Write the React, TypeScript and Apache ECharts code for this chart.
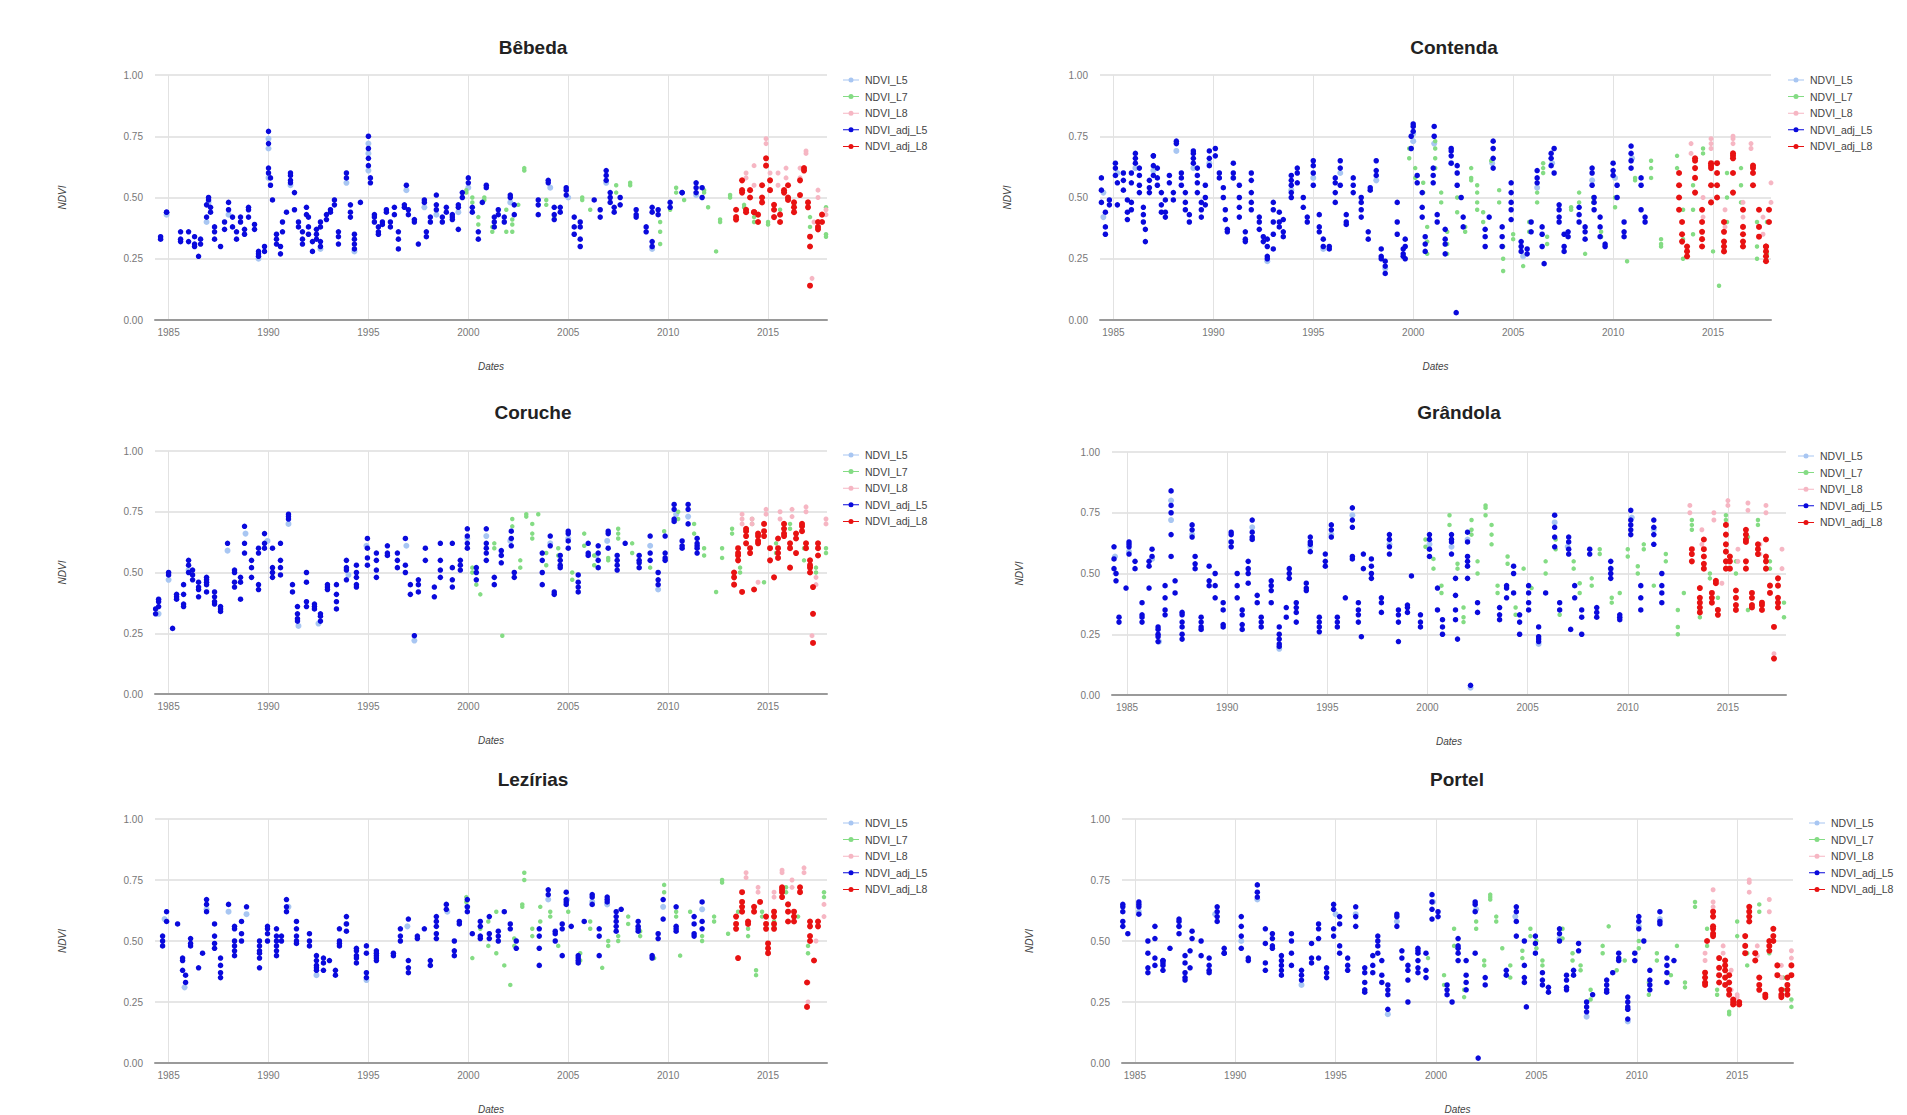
import { useEffect, useRef } from "react";
import * as echarts from "echarts";

// Each row: [decimal year, value, value, ...] — several observations on about the same date
type Group = number[][];

const YEAR_TICKS = [1985, 1990, 1995, 2000, 2005, 2010, 2015];
const SERIES_NAMES = ["NDVI_L5", "NDVI_L7", "NDVI_L8", "NDVI_adj_L5", "NDVI_adj_L8"];

// ---------------- Bêbeda ----------------
const bebedaL5: Group = [[1984.9,0.43],[1986.9,0.40],[1987.0,0.48],[1988.0,0.43],[1989.5,0.25],[1990.0,0.58,0.70,0.74],[1991.1,0.55],[1992.6,0.29],[1993.9,0.56],[1994.3,0.28],[1995.0,0.61,0.68,0.72],[1996.9,0.53],[1997.8,0.46],[1998.4,0.43],[1999.5,0.44],[2000.0,0.54],[2002.1,0.48],[2004.1,0.54],[2005.0,0.50],[2006.9,0.56],[2009.2,0.29],[2011.4,0.51]];
const bebedaL7: Group = [[1999.9,0.52,0.53],[2000.2,0.48,0.50],[2000.5,0.42,0.39],[2000.8,0.50,0.49],[2001.2,0.38,0.36],[2001.9,0.45,0.36],[2002.2,0.36,0.39,0.41],[2002.5,0.47],[2002.8,0.62,0.61],[2003.9,0.47,0.49],[2004.3,0.46,0.42],[2005.7,0.49,0.50],[2006.1,0.45],[2007.4,0.55,0.52],[2008.1,0.55,0.56],[2009.6,0.40,0.36,0.31],[2010.1,0.45,0.46],[2010.4,0.52,0.54],[2010.8,0.49],[2011.8,0.53,0.52],[2012.0,0.46],[2012.4,0.28],[2012.6,0.40,0.41],[2013.1,0.50,0.51],[2013.8,0.47,0.46],[2014.3,0.42,0.40],[2015.0,0.40,0.39],[2015.6,0.40,0.45],[2016.3,0.47,0.44],[2017.1,0.38,0.42],[2017.9,0.35,0.34,0.46]];
const bebedaL8: Group = [[2013.9,0.58,0.60],[2014.3,0.63,0.55],[2014.9,0.72,0.74],[2015.1,0.60,0.57],[2015.5,0.55,0.60],[2015.9,0.62,0.58],[2016.6,0.62,0.58],[2016.9,0.69,0.68],[2017.2,0.17],[2017.3,0.40],[2017.5,0.53,0.50],[2017.9,0.45,0.43]];
const bebedaAdjL5: Group = [[1984.3,0.38,0.36],[1984.6,0.34,0.33],[1984.9,0.44,0.44],[1985.6,0.36,0.33,0.32],[1986.0,0.36,0.32],[1986.3,0.34,0.31,0.30],[1986.5,0.26],[1986.6,0.33,0.31],[1986.9,0.42,0.47],[1987.0,0.49,0.50],[1987.1,0.46,0.44],[1987.3,0.38,0.36,0.33],[1987.6,0.30],[1987.8,0.40,0.37],[1988.0,0.48,0.45],[1988.2,0.42,0.38],[1988.4,0.36,0.33],[1988.6,0.42,0.40],[1988.8,0.37,0.35],[1989.0,0.46,0.45,0.42],[1989.3,0.39,0.37],[1989.5,0.28,0.27,0.26],[1989.8,0.28,0.30],[1990.0,0.60,0.62,0.72,0.77],[1990.1,0.58,0.55],[1990.2,0.49],[1990.4,0.35,0.33,0.31],[1990.6,0.27,0.30],[1990.7,0.36,0.40],[1990.9,0.44],[1991.1,0.59,0.60,0.57,0.56],[1991.3,0.52,0.45],[1991.5,0.40,0.38],[1991.7,0.36,0.33,0.31],[1991.9,0.46,0.43],[1992.0,0.42,0.38,0.35],[1992.2,0.28,0.32],[1992.4,0.37,0.35,0.33],[1992.6,0.40,0.38,0.32,0.30],[1992.9,0.43,0.41],[1993.1,0.45,0.44],[1993.3,0.49,0.47],[1993.5,0.36,0.34,0.31],[1993.9,0.58,0.60],[1994.1,0.42,0.44,0.47],[1994.3,0.35,0.33,0.29,0.31],[1994.6,0.48],[1995.0,0.63,0.66,0.70,0.75],[1995.1,0.58,0.56],[1995.3,0.43,0.42,0.40],[1995.5,0.38,0.36,0.35],[1995.7,0.40,0.39],[1995.9,0.45,0.44],[1996.1,0.40,0.38],[1996.3,0.46,0.43],[1996.5,0.36,0.33,0.29],[1996.8,0.46,0.47],[1996.9,0.55],[1997.0,0.43,0.45],[1997.3,0.41,0.40],[1997.5,0.31],[1997.8,0.48,0.49],[1997.9,0.36,0.34],[1998.1,0.42,0.40],[1998.4,0.51,0.47,0.45],[1998.7,0.42,0.40],[1998.9,0.46,0.44],[1999.2,0.41,0.42,0.43],[1999.5,0.37,0.46,0.47],[1999.7,0.50,0.52],[2000.0,0.56,0.58],[2000.2,0.46,0.44],[2000.5,0.36,0.33],[2000.7,0.48],[2000.9,0.55,0.54],[2001.3,0.42,0.40,0.38],[2001.5,0.45,0.43],[2001.8,0.42,0.40],[2002.1,0.51,0.50],[2002.3,0.47,0.43],[2003.5,0.49,0.47,0.43],[2004.0,0.56,0.57],[2004.3,0.46,0.43,0.41],[2004.6,0.46,0.44],[2004.9,0.53,0.54,0.51],[2005.3,0.42,0.38,0.35],[2005.6,0.40,0.38,0.33,0.30],[2006.3,0.49],[2006.6,0.45,0.42],[2006.9,0.59,0.61,0.57],[2007.1,0.52,0.50,0.48],[2007.3,0.46,0.44],[2007.6,0.50,0.47],[2008.4,0.45,0.43,0.42],[2008.9,0.38,0.36],[2009.2,0.46,0.44,0.32,0.30],[2009.5,0.43,0.45],[2010.1,0.48,0.46],[2010.7,0.52,0.52],[2011.4,0.56,0.54,0.52],[2011.7,0.54,0.50]];
const bebedaAdjL8: Group = [[2013.4,0.45,0.42,0.41],[2013.7,0.57,0.52,0.53],[2013.9,0.45,0.44],[2014.1,0.50,0.53],[2014.3,0.44,0.44],[2014.5,0.40,0.43],[2014.7,0.48,0.50,0.55],[2014.9,0.66,0.63],[2015.1,0.57,0.53],[2015.3,0.47,0.45,0.42],[2015.6,0.40,0.43],[2015.8,0.52,0.53],[2016.0,0.55,0.50,0.49],[2016.3,0.48,0.46,0.44],[2016.6,0.51,0.57],[2016.8,0.62,0.61],[2017.0,0.46,0.48],[2017.1,0.34,0.30,0.14],[2017.5,0.40,0.38,0.37],[2017.7,0.43,0.40]];

// ---------------- Contenda ----------------
const contendaL5: Group = [[1984.5,0.52,0.42],[1985.2,0.60],[1986.1,0.62],[1987.0,0.61],[1988.15,0.69],[1989.0,0.62],[1989.8,0.64],[1991.0,0.58],[1992.7,0.24],[1993.9,0.53],[1995.0,0.58],[1995.5,0.29],[1996.35,0.60],[1998.15,0.57],[1998.6,0.21],[2000.0,0.73,0.76],[2001.05,0.72],[2001.9,0.64],[2003.95,0.64],[2005.5,0.26],[2006.2,0.54],[2006.95,0.64],[2008.95,0.57],[2010.1,0.58],[2010.95,0.66]];
const contendaL7: Group = [[1999.8,0.70,0.66],[2000.1,0.62,0.58],[2000.5,0.52,0.56],[2000.7,0.38,0.32,0.27],[2001.1,0.73,0.70,0.66,0.62],[2001.4,0.48,0.52],[2001.7,0.36,0.31,0.27],[2002.2,0.60,0.55,0.50,0.44],[2002.6,0.38,0.36],[2002.9,0.57,0.62,0.58],[2003.2,0.55,0.52,0.48,0.45],[2003.5,0.40,0.44],[2003.9,0.65],[2004.3,0.53,0.48],[2004.5,0.30,0.25,0.20],[2005.0,0.35,0.33],[2005.5,0.22],[2005.8,0.40,0.36],[2006.2,0.48,0.52],[2006.5,0.62,0.60,0.64],[2006.7,0.31,0.34],[2007.9,0.45,0.46],[2008.3,0.48,0.52],[2008.6,0.27],[2009.0,0.50,0.48],[2009.4,0.36,0.34],[2010.1,0.50,0.46],[2010.7,0.24],[2011.1,0.58,0.57],[2011.9,0.65,0.62,0.58],[2012.4,0.33,0.31,0.30],[2013.2,0.67,0.62],[2013.5,0.45,0.33,0.25],[2014.0,0.55,0.45,0.35],[2014.5,0.70,0.68],[2015.0,0.28],[2015.3,0.14],[2015.7,0.60,0.50,0.40],[2016.4,0.62,0.55,0.48],[2017.2,0.40,0.30,0.25],[2017.7,0.40,0.27]];
const contendaL8: Group = [[2013.9,0.68,0.72],[2014.5,0.50,0.42],[2014.9,0.72,0.70,0.74],[2015.6,0.45,0.38],[2016.0,0.74,0.75,0.72],[2016.5,0.42,0.48],[2016.9,0.70,0.72],[2017.5,0.35,0.42],[2017.9,0.56,0.48]];
const contendaAdjL5: Group = [[1984.4,0.58,0.53,0.48],[1984.6,0.44,0.38,0.35],[1984.8,0.49,0.47],[1985.1,0.64,0.62,0.59],[1985.2,0.56,0.47],[1985.5,0.60,0.57,0.53],[1985.7,0.49,0.44,0.41],[1985.9,0.60,0.56,0.48,0.45],[1986.1,0.66,0.68,0.64],[1986.3,0.62,0.59,0.55,0.52],[1986.5,0.46,0.43,0.40],[1986.6,0.37,0.32],[1986.8,0.57,0.54,0.52],[1987.0,0.67,0.67,0.63,0.59],[1987.2,0.62,0.58,0.55],[1987.4,0.52,0.47,0.44],[1987.6,0.42,0.44,0.49],[1987.8,0.59,0.56],[1988.0,0.52,0.49],[1988.15,0.73,0.72],[1988.4,0.60,0.58,0.55],[1988.6,0.52,0.48,0.45],[1988.8,0.43,0.40],[1989.0,0.69,0.68,0.66,0.64],[1989.2,0.62,0.59,0.56,0.52],[1989.4,0.48,0.45,0.42],[1989.6,0.55,0.50,0.47],[1989.8,0.63,0.66,0.69],[1990.1,0.70,0.67],[1990.3,0.60,0.58],[1990.5,0.54,0.50],[1990.6,0.45,0.41],[1990.7,0.37,0.36],[1991.0,0.64,0.60,0.58],[1991.3,0.55,0.50,0.46,0.42],[1991.6,0.36,0.32,0.33],[1991.9,0.60,0.57,0.52,0.48,0.45],[1992.3,0.42,0.40,0.37],[1992.5,0.34,0.32],[1992.7,0.33,0.30,0.26,0.25],[1993.0,0.48,0.45,0.40,0.35,0.29],[1993.3,0.44,0.40,0.38],[1993.5,0.36,0.34,0.41],[1993.9,0.55,0.57,0.59,0.52,0.50],[1994.2,0.60,0.62,0.56],[1994.5,0.50,0.46],[1994.7,0.42,0.40],[1995.0,0.65,0.63,0.60,0.55],[1995.3,0.43,0.38,0.36],[1995.5,0.33,0.30],[1995.8,0.30,0.29],[1996.1,0.58,0.56,0.52,0.48],[1996.35,0.65,0.62,0.55],[1996.65,0.43,0.40,0.39],[1997.0,0.58,0.55,0.52],[1997.4,0.50,0.48,0.45,0.42],[1997.75,0.36,0.33],[1997.85,0.53,0.54],[1998.15,0.65,0.61,0.59],[1998.4,0.29,0.26,0.25],[1998.6,0.24,0.22,0.19],[1999.2,0.40,0.35,0.48],[1999.5,0.29,0.27,0.26],[1999.6,0.25,0.30,0.33],[1999.9,0.70,0.75],[2000.0,0.80,0.79,0.77],[2000.2,0.59,0.56],[2000.45,0.52,0.46,0.42],[2000.6,0.34,0.31,0.28],[2001.0,0.59,0.62,0.56],[2001.05,0.79,0.75],[2001.2,0.43,0.40],[2001.6,0.37,0.33,0.31,0.27],[2001.9,0.69,0.70,0.67,0.64],[2002.2,0.63,0.60,0.55],[2002.15,0.03],[2002.4,0.50],[2002.5,0.42,0.38],[2003.6,0.37,0.34,0.30],[2003.8,0.42],[2004.0,0.73,0.70,0.66,0.62],[2004.45,0.38,0.34,0.30],[2004.9,0.56,0.52,0.48,0.45,0.41],[2005.4,0.32,0.30,0.28],[2005.7,0.29,0.27],[2005.9,0.40,0.36],[2006.2,0.58,0.61,0.56],[2006.45,0.38,0.35,0.30],[2006.55,0.23],[2006.9,0.63,0.66,0.68],[2007.05,0.70,0.60],[2007.3,0.47,0.45,0.42,0.40],[2007.55,0.35,0.30,0.28],[2007.75,0.34,0.36],[2008.3,0.46,0.43,0.40],[2008.6,0.38,0.36,0.33],[2008.95,0.60,0.62,0.55],[2009.05,0.50,0.48,0.45],[2009.35,0.42,0.38,0.34],[2009.6,0.31,0.30],[2010.0,0.61,0.64,0.59],[2010.2,0.55,0.50],[2010.55,0.40,0.36,0.34],[2010.9,0.62,0.68,0.71,0.65],[2011.4,0.58,0.55,0.45],[2011.6,0.42,0.40]];
const contendaAdjL8: Group = [[2013.3,0.60,0.55,0.50,0.45],[2013.45,0.40,0.35,0.32],[2013.7,0.28,0.26,0.30],[2014.1,0.65,0.66,0.62,0.58,0.52],[2014.45,0.45,0.40,0.36,0.33,0.30],[2014.9,0.48,0.55,0.62,0.63,0.64],[2015.2,0.64,0.60,0.55,0.50],[2015.55,0.40,0.36,0.32,0.30,0.28],[2016.0,0.68,0.67,0.66,0.60,0.52],[2016.5,0.45,0.38,0.35,0.32,0.30],[2017.0,0.62,0.63,0.60,0.55],[2017.3,0.45,0.38,0.34],[2017.65,0.30,0.28,0.26,0.30,0.24],[2017.8,0.40,0.45]];

// ---------------- Coruche ----------------
const corucheL5: Group = [[1984.5,0.33],[1985.0,0.47],[1986.0,0.51],[1987.95,0.59],[1988.85,0.66],[1989.95,0.63],[1991.0,0.70],[1991.5,0.28],[1992.5,0.29],[1994.0,0.49],[1994.9,0.61],[1996.9,0.61],[1997.3,0.22],[1999.95,0.64],[2000.9,0.65],[2002.1,0.63],[2004.1,0.62],[2005.0,0.64],[2006.4,0.57],[2006.95,0.63],[2009.1,0.61],[2009.5,0.43],[2010.4,0.74],[2011.0,0.73]];
const corucheL7: Group = [[2000.2,0.50,0.52],[2000.4,0.45],[2000.6,0.41],[2001.3,0.60,0.62],[2001.7,0.24],[2002.2,0.69,0.72],[2002.6,0.55,0.52],[2002.9,0.74,0.73],[2003.2,0.66,0.70,0.64],[2003.5,0.74],[2003.9,0.58,0.53],[2004.5,0.60,0.57],[2005.2,0.50,0.47],[2005.8,0.61,0.66],[2006.3,0.57,0.53],[2007.0,0.56,0.55],[2007.5,0.66,0.64,0.68],[2008.2,0.62,0.58],[2009.1,0.52],[2009.8,0.67],[2010.5,0.75,0.72],[2011.3,0.70,0.66],[2011.8,0.60,0.57],[2012.4,0.42],[2012.7,0.56,0.60],[2013.2,0.66,0.68],[2013.6,0.52,0.50],[2014.2,0.70,0.72],[2014.8,0.46],[2015.4,0.62,0.58],[2016.1,0.68,0.70],[2016.8,0.55,0.60],[2017.4,0.50,0.52],[2017.9,0.58,0.60]];
const corucheL8: Group = [[2013.7,0.72,0.74,0.70],[2014.2,0.70,0.72],[2014.5,0.46],[2014.9,0.76,0.74],[2015.6,0.72,0.75],[2016.2,0.73,0.76],[2016.9,0.77,0.75],[2017.2,0.24],[2017.4,0.48,0.45],[2017.9,0.70,0.72]];
const corucheAdjL5: Group = [[1984.35,0.35,0.33],[1984.5,0.36,0.38,0.39],[1985.0,0.49,0.50],[1985.2,0.27],[1985.4,0.40,0.41,0.39],[1985.75,0.45,0.41,0.37,0.36],[1986.0,0.55,0.53,0.50],[1986.2,0.51,0.49,0.47],[1986.5,0.46,0.44,0.43,0.40],[1986.9,0.46,0.45,0.42,0.48,0.47],[1987.3,0.40,0.38,0.37,0.42],[1987.6,0.35,0.34,0.36],[1987.95,0.62],[1988.3,0.51,0.50,0.46,0.44],[1988.6,0.48,0.46,0.39],[1988.8,0.58,0.62,0.69],[1989.15,0.55,0.52,0.48],[1989.5,0.60,0.58,0.45,0.43],[1989.8,0.62,0.66,0.60],[1990.2,0.50,0.48,0.60,0.52],[1990.6,0.55,0.52,0.49,0.62],[1991.0,0.72,0.74,0.73],[1991.2,0.45,0.42],[1991.45,0.36,0.33,0.31,0.30],[1991.9,0.38,0.36,0.50,0.46],[1992.3,0.37,0.36,0.35],[1992.6,0.33,0.32,0.30],[1992.95,0.44,0.43,0.45],[1993.4,0.45,0.41,0.38,0.35],[1993.9,0.51,0.55,0.52,0.47],[1994.4,0.53,0.50,0.48,0.45,0.44],[1994.95,0.60,0.64,0.56,0.53],[1995.4,0.58,0.55,0.51,0.48],[1995.95,0.61,0.58,0.57],[1996.45,0.55,0.52,0.58],[1996.85,0.64,0.53,0.50],[1997.1,0.41,0.45],[1997.3,0.24],[1997.5,0.47,0.45,0.42],[1997.85,0.55,0.60],[1998.3,0.40,0.44],[1998.6,0.62,0.55,0.51,0.48],[1999.2,0.62,0.52,0.47,0.44],[1999.6,0.55,0.53,0.51],[1999.95,0.62,0.65,0.68,0.60],[2000.4,0.52,0.50,0.47],[2000.9,0.58,0.62,0.68,0.60,0.55],[2001.3,0.48,0.45],[2001.65,0.59,0.57,0.54],[2002.15,0.64,0.67,0.61],[2002.3,0.50,0.48],[2003.7,0.58,0.55,0.50,0.45],[2004.1,0.65,0.61],[2004.3,0.42,0.41],[2004.6,0.57,0.55,0.53,0.52],[2005.0,0.66,0.67,0.63,0.60],[2005.5,0.42,0.44,0.46,0.49],[2006.0,0.58,0.62,0.57],[2006.5,0.61,0.58,0.55,0.52],[2007.0,0.67,0.66,0.60],[2007.45,0.57,0.55,0.53,0.51],[2007.85,0.62],[2008.55,0.57,0.55,0.54,0.52],[2009.1,0.65,0.58,0.55],[2009.5,0.50,0.47,0.45],[2009.85,0.56,0.55,0.58,0.65],[2010.3,0.72,0.71,0.76,0.78],[2010.7,0.60,0.63,0.61],[2011.0,0.78,0.76,0.70],[2011.45,0.64,0.61,0.58,0.62,0.60]];
const corucheAdjL8: Group = [[2013.3,0.50,0.48,0.45],[2013.5,0.57,0.58,0.60,0.55],[2013.7,0.42],[2013.9,0.68,0.67,0.65,0.62],[2014.1,0.58,0.60],[2014.3,0.43],[2014.5,0.62,0.63,0.65,0.66],[2014.8,0.70,0.67,0.65],[2015.1,0.60,0.55],[2015.3,0.48],[2015.5,0.58,0.64,0.60,0.56],[2015.8,0.66,0.68,0.70,0.65],[2016.1,0.52,0.60,0.62],[2016.4,0.66,0.64,0.58],[2016.7,0.69,0.70,0.67],[2016.9,0.62,0.60],[2017.1,0.55,0.52,0.50,0.53],[2017.25,0.44,0.33,0.21],[2017.5,0.57,0.60,0.62]];

// ---------------- Grândola ----------------
const grandolaL5: Group = [[1984.4,0.57],[1985.1,0.59],[1986.25,0.56],[1986.6,0.22],[1987.2,0.80,0.72],[1988.25,0.66],[1990.2,0.63],[1991.25,0.69],[1992.6,0.19],[1994.15,0.61],[1995.2,0.66],[1996.25,0.74],[1998.1,0.62],[2000.1,0.62],[2001.2,0.61],[2002.0,0.64],[2002.15,0.03],[2005.55,0.21],[2006.35,0.71],[2007.0,0.61],[2009.15,0.52],[2010.2,0.73],[2011.3,0.68]];
const grandolaL7: Group = [[1999.9,0.64,0.61],[2000.3,0.56,0.52],[2000.7,0.45,0.42],[2001.1,0.70,0.74],[2001.5,0.54,0.52],[2001.8,0.36,0.32,0.30],[2002.2,0.68,0.72,0.66],[2002.5,0.55,0.50],[2002.9,0.77,0.78,0.74],[2003.2,0.70,0.66,0.62],[2003.5,0.45,0.42],[2004.0,0.57,0.54],[2004.4,0.36,0.33],[2004.8,0.52],[2005.2,0.44],[2005.9,0.55,0.50],[2006.4,0.60,0.64],[2006.6,0.33],[2007.3,0.55,0.52],[2007.6,0.46,0.42],[2008.2,0.48,0.45],[2008.6,0.58,0.60],[2009.2,0.40,0.38],[2009.6,0.42],[2010.0,0.57,0.60],[2010.5,0.53,0.50],[2010.8,0.60,0.62],[2011.3,0.45],[2011.9,0.55,0.58],[2012.5,0.35,0.28,0.25],[2012.8,0.42],[2013.2,0.70,0.72,0.68],[2013.6,0.32,0.35],[2014.1,0.50,0.48],[2014.5,0.35,0.40],[2014.9,0.74,0.72,0.70],[2015.4,0.55,0.50],[2016.0,0.65,0.35],[2016.5,0.72,0.70],[2017.1,0.52,0.55],[2017.8,0.32,0.38]];
const grandolaL8: Group = [[2013.1,0.78,0.75],[2013.7,0.62,0.68],[2014.3,0.72,0.75],[2014.7,0.46],[2015.0,0.80,0.78],[2015.5,0.60,0.55],[2016.0,0.76,0.79],[2016.6,0.62,0.58],[2016.9,0.78,0.75],[2017.3,0.17],[2017.7,0.60,0.52]];
const grandolaAdjL5: Group = [[1984.35,0.61,0.56,0.52],[1984.45,0.50,0.47],[1984.6,0.32,0.30],[1984.95,0.44],[1985.1,0.61,0.63,0.62,0.58],[1985.4,0.55,0.52],[1985.75,0.38,0.33,0.32,0.30],[1986.1,0.44,0.53,0.55],[1986.25,0.60,0.57],[1986.55,0.28,0.27,0.25,0.24,0.22],[1986.9,0.33,0.35,0.40,0.45],[1987.2,0.66,0.75,0.78,0.84,0.57],[1987.4,0.47,0.42],[1987.75,0.34,0.28,0.25,0.23,0.30,0.33],[1988.25,0.70,0.68,0.65],[1988.4,0.57,0.54,0.52],[1988.7,0.32,0.30,0.28,0.27],[1989.1,0.53,0.47,0.45],[1989.4,0.50,0.45,0.40],[1989.8,0.29,0.28,0.35,0.38],[1990.2,0.67,0.66,0.63,0.61],[1990.5,0.50,0.45,0.40],[1990.75,0.35,0.33,0.29,0.27],[1991.05,0.55,0.52,0.50,0.46],[1991.25,0.65,0.67,0.64,0.72],[1991.5,0.41,0.38],[1991.7,0.32,0.30,0.28],[1992.2,0.38,0.45,0.47,0.43],[1992.6,0.28,0.25,0.23,0.21,0.20],[1992.95,0.32,0.36],[1993.1,0.48,0.50,0.52],[1993.45,0.38,0.36,0.34,0.30],[1993.95,0.43,0.46,0.44],[1994.15,0.65,0.63,0.62,0.59],[1994.6,0.32,0.30,0.28,0.26],[1994.9,0.53,0.55,0.58],[1995.2,0.70,0.68,0.65],[1995.5,0.32,0.30,0.28],[1995.9,0.40],[1996.25,0.56,0.57,0.69,0.72,0.77],[1996.55,0.38,0.35,0.33,0.30],[1996.7,0.24],[1996.8,0.58,0.52],[1997.2,0.56,0.53,0.50,0.48],[1997.7,0.40,0.38,0.34],[1998.1,0.66,0.64,0.61,0.58],[1998.55,0.35,0.33,0.30,0.22],[1999.0,0.36,0.34,0.37],[1999.2,0.49],[1999.65,0.33,0.30,0.28],[2000.1,0.57,0.64,0.66,0.60],[2000.5,0.44,0.35],[2000.75,0.25,0.28,0.31],[2001.2,0.64,0.66,0.63,0.58],[2001.4,0.48,0.41,0.35,0.31],[2001.5,0.23],[2002.0,0.53,0.57,0.63,0.67,0.55,0.48],[2002.15,0.04],[2002.5,0.38,0.34],[2003.6,0.36,0.33,0.31],[2003.95,0.40,0.45,0.44],[2004.3,0.53,0.50,0.42],[2004.6,0.33,0.30,0.25],[2005.05,0.45,0.42,0.38,0.35],[2005.55,0.28,0.24,0.22,0.23],[2005.9,0.42],[2006.35,0.61,0.65,0.69,0.74],[2006.6,0.38,0.35],[2007.05,0.63,0.65,0.60,0.58],[2007.15,0.27],[2007.35,0.45,0.40],[2007.7,0.35,0.32,0.25],[2008.1,0.60,0.58],[2008.45,0.36,0.34,0.32],[2009.15,0.50,0.52,0.55,0.48],[2009.6,0.32,0.31,0.33],[2010.15,0.66,0.68,0.72,0.76,0.70],[2010.65,0.45,0.40,0.35],[2011.3,0.72,0.69,0.66,0.62],[2011.7,0.50,0.45,0.42,0.38]];
const grandolaAdjL8: Group = [[2013.2,0.60,0.58,0.55],[2013.6,0.44,0.40,0.38,0.36,0.34],[2013.8,0.64,0.60,0.57,0.54,0.52],[2014.2,0.42,0.40,0.38],[2014.4,0.47,0.46],[2014.5,0.35,0.33],[2014.9,0.52,0.55,0.59,0.62,0.66,0.70],[2015.1,0.57,0.55,0.52],[2015.4,0.43,0.40,0.37,0.35],[2015.9,0.63,0.66,0.68,0.64,0.55,0.52],[2016.2,0.42,0.40,0.37,0.36],[2016.5,0.58,0.60,0.62],[2016.7,0.37,0.35,0.38],[2016.9,0.55,0.52,0.64,0.57],[2017.1,0.45,0.42],[2017.3,0.28,0.15],[2017.5,0.38,0.36,0.40,0.45,0.48]];

// ---------------- Lezírias ----------------
const leziriasL5: Group = [[1984.8,0.59],[1985.8,0.31],[1986.9,0.63],[1988.0,0.62],[1988.9,0.61],[1991.0,0.64],[1992.4,0.36],[1993.9,0.57],[1994.9,0.34],[1996.95,0.56],[1998.95,0.62],[1999.95,0.64],[2004.0,0.67],[2004.95,0.67],[2006.2,0.66],[2006.95,0.65],[2009.75,0.64],[2011.7,0.63]];
const leziriasL7: Group = [[1999.9,0.66,0.68],[2000.2,0.43],[2000.6,0.55,0.52],[2001.0,0.58,0.48],[2001.4,0.62,0.45],[2001.8,0.40],[2002.1,0.32],[2002.3,0.48,0.51],[2002.7,0.65,0.64],[2002.8,0.75,0.78],[2003.2,0.55,0.52],[2003.6,0.64,0.58],[2004.1,0.62,0.60],[2004.5,0.48],[2005.0,0.62],[2005.6,0.42,0.45],[2006.1,0.58,0.55],[2006.7,0.39],[2007.0,0.48,0.50],[2007.5,0.52,0.50],[2008.0,0.60,0.57],[2008.6,0.54,0.52],[2009.3,0.43],[2009.8,0.70,0.73],[2010.4,0.62,0.60],[2010.6,0.44],[2011.1,0.62],[2011.7,0.52,0.50],[2012.3,0.60,0.58],[2012.7,0.74,0.75],[2013.0,0.53],[2013.5,0.62],[2014.0,0.55,0.52],[2014.4,0.36,0.38],[2014.7,0.60,0.62],[2015.3,0.58,0.56],[2015.9,0.70,0.72],[2016.5,0.60],[2017.0,0.45,0.48],[2017.8,0.68,0.70]];
const leziriasL8: Group = [[2013.9,0.76,0.78],[2014.5,0.70,0.72],[2015.3,0.68,0.70],[2015.7,0.78,0.79],[2016.2,0.72,0.75],[2016.8,0.80,0.78],[2017.0,0.25,0.33],[2017.4,0.50],[2017.8,0.60,0.65]];
const leziriasAdjL5: Group = [[1984.3,0.49,0.45],[1984.7,0.52,0.50,0.48],[1984.9,0.58,0.62],[1985.45,0.57],[1985.7,0.43,0.42,0.38],[1985.85,0.36,0.33],[1986.1,0.48,0.49,0.51],[1986.5,0.39],[1986.7,0.45],[1986.9,0.62,0.65,0.67],[1987.3,0.57,0.52,0.49,0.47],[1987.6,0.43,0.40,0.37,0.35],[1988.0,0.65],[1988.3,0.56,0.55,0.50,0.48,0.46,0.44],[1988.65,0.58,0.53,0.50],[1988.9,0.64],[1989.55,0.50,0.48,0.46,0.43,0.39,0.45],[1989.95,0.56,0.55,0.53,0.50],[1990.4,0.48,0.46,0.44,0.50,0.52,0.55],[1990.65,0.52,0.50],[1990.9,0.62,0.64,0.67],[1991.4,0.58,0.55,0.52,0.50,0.49],[1992.05,0.50,0.48,0.53],[1992.4,0.44,0.42,0.40,0.38,0.39],[1992.75,0.43,0.41,0.38],[1993.05,0.42],[1993.35,0.38,0.36],[1993.55,0.55,0.50,0.49,0.48],[1993.9,0.57,0.60,0.54],[1994.4,0.47,0.46,0.44,0.43,0.41],[1994.9,0.37,0.35,0.45,0.48],[1995.4,0.46,0.43,0.42,0.44,0.45],[1996.25,0.44,0.45],[1996.6,0.50,0.52,0.55],[1997.0,0.59,0.42,0.39,0.37],[1997.45,0.52,0.51],[1997.8,0.55],[1998.1,0.42,0.40],[1998.4,0.60,0.58,0.56,0.53,0.51],[1998.9,0.63,0.65],[1999.3,0.44,0.50,0.46],[1999.55,0.58,0.57],[1999.95,0.67,0.64,0.62],[2000.2,0.53],[2000.6,0.51,0.56,0.58,0.52],[2001.05,0.60,0.53,0.51],[2001.5,0.54,0.52,0.50],[2001.8,0.62],[2002.1,0.57,0.55],[2002.4,0.47,0.50],[2003.55,0.55,0.52,0.47,0.40],[2004.0,0.69,0.71],[2004.35,0.54,0.53,0.50],[2004.7,0.57,0.55,0.44],[2004.9,0.66,0.65,0.67,0.70],[2005.15,0.56],[2005.5,0.43,0.42,0.44,0.41],[2005.8,0.58],[2006.2,0.69,0.68,0.65],[2006.55,0.55,0.52,0.44],[2006.95,0.67,0.68,0.66],[2007.4,0.62,0.60,0.58,0.56,0.54],[2007.65,0.63],[2008.5,0.58,0.56,0.54,0.55],[2009.2,0.43,0.44],[2009.5,0.53,0.51],[2009.75,0.59,0.67],[2010.4,0.64,0.56,0.54,0.55],[2011.3,0.60,0.57,0.53,0.52],[2011.7,0.55,0.58,0.66]];
const leziriasAdjL8: Group = [[2013.4,0.55,0.57,0.60],[2013.5,0.43],[2013.7,0.64,0.62,0.66,0.70],[2014.0,0.58,0.57],[2014.3,0.62,0.64],[2014.6,0.66],[2014.9,0.57,0.55,0.60],[2015.0,0.49,0.47,0.45],[2015.3,0.55,0.57,0.60,0.62],[2015.7,0.70,0.72,0.71,0.68],[2016.0,0.65,0.62,0.58],[2016.3,0.62,0.60,0.58],[2016.6,0.72,0.70],[2016.95,0.33,0.23],[2017.1,0.56,0.58,0.52,0.50],[2017.3,0.42],[2017.5,0.58,0.56]];

// ---------------- Portel ----------------
const portelL5: Group = [[1984.35,0.62],[1985.2,0.62],[1987.2,0.56],[1989.0,0.61],[1990.3,0.50],[1991.1,0.67],[1993.3,0.32],[1995.0,0.61],[1996.0,0.61],[1997.6,0.20],[1998.05,0.58],[1999.85,0.66],[2002.0,0.63],[2003.95,0.60],[2006.15,0.51],[2007.5,0.19],[2009.55,0.17],[2010.1,0.56],[2011.15,0.59]];
const portelL7: Group = [[1999.6,0.43],[2000.4,0.36,0.32],[2000.9,0.48,0.55],[2001.4,0.27,0.30],[2002.0,0.55,0.58],[2002.4,0.42,0.40],[2002.7,0.68,0.69,0.67],[2003.0,0.60,0.58],[2003.3,0.47],[2003.7,0.40,0.35],[2004.3,0.46,0.43],[2004.7,0.55,0.52],[2005.0,0.50,0.47],[2005.3,0.40,0.42],[2006.3,0.55,0.51],[2006.8,0.45,0.42],[2007.2,0.40,0.38],[2007.7,0.30,0.26],[2008.3,0.45,0.48],[2008.6,0.56],[2009.0,0.38],[2009.4,0.42],[2010.1,0.50,0.47],[2010.6,0.33,0.28],[2011.0,0.45,0.42],[2011.7,0.36],[2012.0,0.48],[2012.4,0.33,0.31],[2012.9,0.66,0.64],[2013.5,0.55,0.48],[2014.0,0.30,0.28],[2014.6,0.21,0.20],[2015.0,0.58,0.52],[2015.5,0.45,0.40],[2016.1,0.65,0.62],[2016.6,0.48,0.45],[2017.3,0.35,0.30],[2017.7,0.23,0.26]];
const portelL8: Group = [[2013.4,0.42,0.45],[2013.8,0.64,0.66,0.71],[2014.3,0.45,0.48],[2014.7,0.38,0.30],[2015.0,0.28,0.27],[2015.6,0.74,0.75,0.70],[2016.0,0.48,0.44],[2016.6,0.62,0.67],[2017.2,0.35,0.40],[2017.7,0.46,0.43]];
const portelAdjL5: Group = [[1984.3,0.47,0.45],[1984.4,0.64,0.65,0.62,0.58,0.56],[1984.65,0.53],[1985.2,0.66,0.65,0.64,0.61],[1985.65,0.50,0.45,0.39,0.37],[1986.0,0.56,0.51,0.43,0.40],[1986.4,0.42,0.40,0.38,0.41,0.42],[1986.75,0.47],[1987.2,0.59,0.58,0.56,0.53],[1987.5,0.44,0.41,0.37,0.35,0.34],[1987.75,0.39,0.46],[1987.85,0.54,0.51],[1988.3,0.50,0.44],[1988.7,0.43,0.40,0.38,0.37],[1989.1,0.64,0.62,0.60,0.58],[1989.45,0.47,0.45,0.45],[1990.3,0.60,0.56,0.52,0.47],[1990.65,0.43,0.42],[1991.1,0.73,0.70,0.68],[1991.5,0.55,0.49,0.41,0.38],[1991.85,0.48,0.51,0.53,0.47],[1992.3,0.44,0.42,0.40,0.38,0.36],[1992.8,0.50,0.53,0.45,0.40],[1993.3,0.36,0.34,0.38],[1993.8,0.49,0.43,0.41],[1994.15,0.57,0.55,0.51,0.43],[1994.55,0.39,0.37,0.35],[1994.9,0.52,0.55,0.65,0.63],[1995.2,0.60,0.57,0.48,0.45],[1995.6,0.43,0.40,0.38],[1996.0,0.56,0.60,0.64],[1996.45,0.39,0.37,0.33,0.30,0.29],[1996.85,0.44,0.40,0.37],[1997.1,0.50,0.52,0.48,0.45],[1997.3,0.42,0.36,0.33],[1997.6,0.32,0.30,0.28,0.22],[1998.05,0.60,0.61,0.56],[1998.3,0.46,0.43],[1998.6,0.40,0.38,0.34,0.25],[1999.1,0.45,0.46,0.42,0.47,0.39,0.37],[1999.5,0.45,0.38,0.35],[1999.8,0.59,0.63,0.66,0.69],[2000.1,0.62,0.60],[2000.55,0.32,0.30,0.28],[2000.8,0.25],[2001.1,0.51,0.48,0.47,0.45,0.42],[2001.5,0.42,0.36,0.33,0.30],[2001.95,0.45,0.62,0.65,0.66],[2002.1,0.02],[2002.45,0.35,0.32],[2003.5,0.38,0.36],[2004.0,0.64,0.62,0.58,0.52],[2004.4,0.50,0.40,0.35,0.33],[2004.5,0.23],[2004.95,0.52,0.49,0.45],[2005.3,0.37,0.34,0.32],[2005.6,0.31,0.29],[2006.15,0.55,0.53,0.50],[2006.5,0.36,0.34,0.31,0.30],[2006.85,0.36,0.38],[2007.1,0.46,0.49],[2007.5,0.25,0.23,0.21],[2007.8,0.28],[2008.5,0.34,0.32,0.30,0.29],[2008.8,0.37],[2009.1,0.45,0.43,0.42],[2009.55,0.25,0.23,0.22,0.27,0.18],[2009.9,0.42,0.45],[2010.1,0.60,0.58,0.55],[2010.35,0.50],[2010.65,0.38,0.34,0.32,0.30],[2011.15,0.58,0.62,0.57],[2011.5,0.43,0.40,0.37,0.33],[2011.85,0.42]];
const portelAdjL8: Group = [[2013.4,0.37,0.35,0.33,0.32],[2013.5,0.50],[2013.8,0.55,0.56,0.53,0.52,0.60,0.62],[2014.1,0.43,0.39,0.36,0.33],[2014.4,0.42,0.40,0.38,0.35,0.32],[2014.6,0.36,0.33,0.30,0.28],[2014.8,0.26,0.25,0.24],[2015.1,0.25,0.24],[2015.4,0.45,0.48,0.52],[2015.6,0.62,0.64,0.60,0.58],[2015.9,0.45,0.42],[2016.1,0.35,0.32,0.30],[2016.4,0.27,0.28],[2016.6,0.48,0.50,0.46],[2016.8,0.55,0.52,0.50],[2017.0,0.40,0.36],[2017.2,0.30,0.28,0.27],[2017.5,0.30,0.32,0.28,0.35],[2017.7,0.40,0.36]];

// ---------------- layout & style ----------------
const SERIES_COLORS = ["#a8c6f2", "#84dc84", "#f6b6c3", "#0a0adc", "#e81212"];
const SYMBOL_SIZES = [6, 4.5, 5, 5.5, 6];
const LEGEND_ICON =
  "path://M0,2.5H16V3.5H0Z M8,0.5A2.5,2.5 0 1,1 8,5.5A2.5,2.5 0 1,1 8,0.5Z";
const FONT = '"Liberation Sans", Arial, sans-serif';

const panels = [
  { title: "Bêbeda", data: [bebedaL5, bebedaL7, bebedaL8, bebedaAdjL5, bebedaAdjL8], left: 155, top: 75, width: 672, height: 245, xMin: 1984.32, xMax: 2017.95, titleX: 533, titleY: 47, legendLeft: 843, legendTop: 74 },
  { title: "Contenda", data: [contendaL5, contendaL7, contendaL8, contendaAdjL5, contendaAdjL8], left: 1100, top: 75, width: 671, height: 245, xMin: 1984.33, xMax: 2017.9, titleX: 1454, titleY: 47, legendLeft: 1788, legendTop: 74 },
  { title: "Coruche", data: [corucheL5, corucheL7, corucheL8, corucheAdjL5, corucheAdjL8], left: 155, top: 451, width: 672, height: 243, xMin: 1984.32, xMax: 2017.95, titleX: 533, titleY: 412, legendLeft: 843, legendTop: 449 },
  { title: "Grândola", data: [grandolaL5, grandolaL7, grandolaL8, grandolaAdjL5, grandolaAdjL8], left: 1112, top: 452, width: 674, height: 243, xMin: 1984.25, xMax: 2017.9, titleX: 1459, titleY: 412, legendLeft: 1798, legendTop: 450 },
  { title: "Lezírias", data: [leziriasL5, leziriasL7, leziriasL8, leziriasAdjL5, leziriasAdjL8], left: 155, top: 819, width: 672, height: 244, xMin: 1984.32, xMax: 2017.95, titleX: 533, titleY: 779, legendLeft: 843, legendTop: 817 },
  { title: "Portel", data: [portelL5, portelL7, portelL8, portelAdjL5, portelAdjL8], left: 1122, top: 819, width: 671, height: 244, xMin: 1984.36, xMax: 2017.78, titleX: 1457, titleY: 779, legendLeft: 1809, legendTop: 817 },
];

const expand = (g: Group) => g.flatMap(([x, ...vs]) => vs.map((v) => [x, v]));

export default function App() {
  const ref = useRef<HTMLDivElement>(null);

  useEffect(() => {
    if (!ref.current) return;
    const chart = echarts.init(ref.current, undefined, { renderer: "svg" });
    const option: any = {
      animation: false,
      backgroundColor: "#ffffff",
      textStyle: { fontFamily: FONT },
      grid: panels.map((p) => ({ left: p.left, top: p.top, width: p.width, height: p.height })),
      xAxis: panels.map((p, i) => ({
        type: "value",
        gridIndex: i,
        min: p.xMin,
        max: p.xMax,
        name: "Dates",
        nameLocation: "middle",
        nameGap: 41,
        nameTextStyle: { fontStyle: "italic", fontSize: 10, color: "#444", fontFamily: FONT },
        axisLine: { show: true, onZero: false, lineStyle: { color: "#9a9a9a", width: 2 } },
        axisTick: { show: false, customValues: YEAR_TICKS },
        axisLabel: {
          customValues: YEAR_TICKS,
          fontSize: 10,
          color: "#777",
          margin: 7,
          fontFamily: FONT,
          formatter: (v: number) => String(Math.round(v)),
        },
        splitLine: { show: true, lineStyle: { color: "#e2e2e2", width: 1 } },
      })),
      yAxis: panels.map((p, i) => ({
        type: "value",
        gridIndex: i,
        min: 0,
        max: 1,
        interval: 0.25,
        name: "NDVI",
        nameLocation: "middle",
        nameGap: 88,
        nameTextStyle: { fontStyle: "italic", fontSize: 10, color: "#444", fontFamily: FONT },
        axisLine: { show: false },
        axisTick: { show: false },
        axisLabel: {
          fontSize: 10,
          color: "#777",
          margin: 12,
          fontFamily: FONT,
          formatter: (v: number) => v.toFixed(2),
        },
        splitLine: { show: true, lineStyle: { color: "#e6e6e6", width: 2 } },
      })),
      legend: panels.map((p) => ({
        orient: "vertical",
        left: p.legendLeft,
        top: p.legendTop,
        padding: 0,
        itemGap: 4.6,
        itemWidth: 16,
        itemHeight: 5,
        selectedMode: false,
        data: SERIES_NAMES.map((n) => ({ name: n, icon: LEGEND_ICON })),
        textStyle: { fontSize: 10.5, color: "#444", lineHeight: 12, fontFamily: FONT, padding: [0, 0, 0, 1] },
      })),
      graphic: panels.map((p) => ({
        type: "text",
        x: p.titleX,
        y: p.titleY,
        style: {
          text: p.title,
          font: `bold 19px ${FONT}`,
          fill: "#222",
          textAlign: "center",
          verticalAlign: "middle",
        },
      })),
      series: panels.flatMap((p, i) =>
        p.data.map((d, k) => ({
          type: "scatter",
          name: SERIES_NAMES[k],
          xAxisIndex: i,
          yAxisIndex: i,
          data: expand(d),
          symbolSize: SYMBOL_SIZES[k],
          itemStyle: { color: SERIES_COLORS[k], opacity: 1 },
          z: 2 + k,
          silent: true,
        }))
      ),
    };
    chart.setOption(option);
    return () => chart.dispose();
  }, []);

  return (
    <div
      ref={ref}
      style={{ position: "fixed", left: 0, top: 0, width: 1907, height: 1115, background: "#fff" }}
    />
  );
}
